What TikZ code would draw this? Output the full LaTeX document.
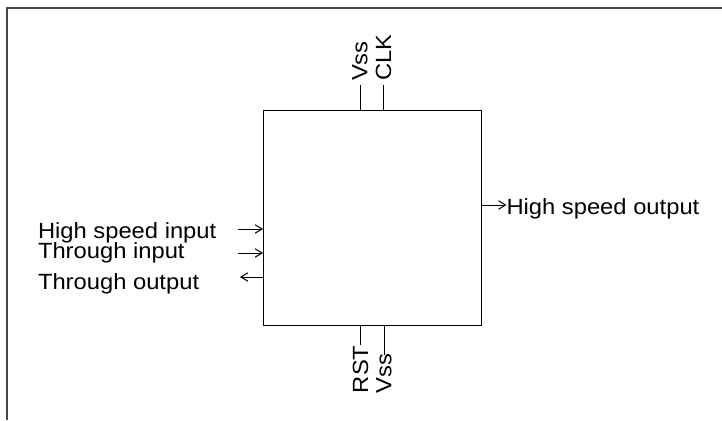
\documentclass[tikz,border=0pt]{standalone}
\usepackage{fontspec}
\setmainfont[FakeStretch=1.08]{Liberation Sans}
\usetikzlibrary{arrows.meta}

\tikzset{
  pin/.style={line width=1pt},
  pinarrow/.style={line width=1pt, -{Straight Barb[length=7pt,width=8.5pt,line width=1pt]}},
  lbl/.style={inner sep=0pt, outer sep=0pt, font=\fontsize{22}{26}\selectfont},
  vlbl/.style={lbl, rotate=90, anchor=west},
}

\begin{document}
\begin{tikzpicture}[x=1pt,y=-1pt]
 \useasboundingbox (0,0) rectangle (722,420);
 % frame
 \draw[line width=2pt, draw=black!72] (6.5,420) -- (6.5,8.5) -- (722,8.5);
 % block
 \node[draw, line width=1pt, minimum width=218pt, minimum height=215pt, inner sep=0pt, outer sep=0pt] (chip) at (372,217.5) {};
 % top pins
 \node[vlbl, outer sep=4pt] (vsstop) at (360,85) {Vss};
 \node[vlbl, outer sep=4pt] (clk) at (383.5,85) {CLK};
 \draw[pin] (chip.north -| vsstop.west) -- (vsstop.west);
 \draw[pin] (chip.north -| clk.west) -- (clk.west);
 % bottom pins
 \node[vlbl] (rst) at (360.5,393) {RST};
 \node[vlbl] (vssbot) at (384,393) {Vss};
 \draw[pin] (chip.south -| rst.east) -- (rst.east);
 \draw[pin] (chip.south -| vssbot.east) -- ([yshift=-2pt]vssbot.east);
 % left side
 \node[lbl, anchor=base west] (hsi) at (38,238) {High speed input};
 \node[lbl, anchor=base west] (thi) at (38,258.5) {Through input};
 \node[lbl, anchor=base west] (tho) at (38,289.5) {Through output};
 \coordinate (hsiPin) at (238,229);
 \coordinate (thiPin) at (238,253);
 \coordinate (thoPin) at (240,277);
 \draw[pinarrow] (hsiPin) -- (hsiPin -| chip.west);
 \draw[pinarrow] (thiPin) -- (thiPin -| chip.west);
 \draw[pinarrow] (thoPin -| chip.west) -- (thoPin);
 % right side
 \node[lbl, anchor=base west] (hso) at (506.5,214) {High speed output};
 \coordinate (hsoY) at (0,205);
 \draw[pinarrow] (chip.east |- hsoY) -- (hso.west |- hsoY);
\end{tikzpicture}
\end{document}
